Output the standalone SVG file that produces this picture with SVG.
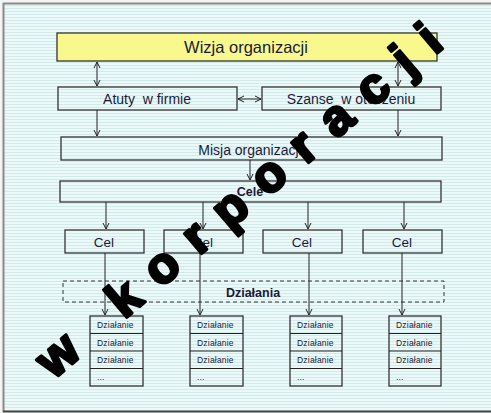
<svg xmlns="http://www.w3.org/2000/svg" width="491" height="413" viewBox="0 0 491 413">
<defs>
<pattern id="stripes" x="0" y="0" width="6" height="3" patternUnits="userSpaceOnUse">
<rect width="6" height="3" fill="#ecf9f9"/>
<rect y="2" width="6" height="1" fill="#d3eaea"/>
</pattern>
<marker id="arr" markerWidth="8" markerHeight="8" refX="7" refY="4" orient="auto-start-reverse" markerUnits="userSpaceOnUse">
<path d="M1,1 L7,4 L1,7" fill="none" stroke="#222" stroke-width="1"/>
</marker>
<style>
.box{fill:none;stroke:#333;stroke-width:1.3}
.t{font-family:"Liberation Sans",Arial,sans-serif;fill:#1a1a3a;text-anchor:middle}
.s{font-family:"Liberation Sans",Arial,sans-serif;font-size:8.5px;fill:#1a1a3a;letter-spacing:0.2px}
.c{stroke:#222;stroke-width:1;fill:none}
</style>
</defs>
<rect width="491" height="413" fill="#f4f4f4"/>
<rect x="3" y="3" width="488" height="408" fill="url(#stripes)"/>
<path d="M3.5,412 L3.5,3.5 L491,3.5" fill="none" stroke="#8a8a8a" stroke-width="2"/>
<line x1="3" y1="411.5" x2="491" y2="411.5" stroke="#444" stroke-width="2"/>

<g id="wizja">
<rect x="57" y="33" width="380" height="28" fill="#f8f88c" stroke="#333" stroke-width="1.3"/>
<text class="t" x="246" y="53" font-size="16.5">Wizja organizacji</text>
</g>
<g id="atuty">
<rect class="box" x="58" y="87" width="179" height="23"/>
<text class="t" x="147" y="104" font-size="14" xml:space="preserve">Atuty  w firmie</text>
</g>
<g id="szanse">
<rect class="box" x="262" y="87" width="179" height="23"/>
<text class="t" x="351" y="104" font-size="14" xml:space="preserve">Szanse  w otoczeniu</text>
</g>
<g id="misja">
<rect class="box" x="61" y="137" width="381" height="23"/>
<text class="t" x="250" y="155" font-size="14">Misja organizacji</text>
</g>
<g id="cele">
<rect class="box" x="60" y="181" width="381" height="21"/>
<text class="t" x="250" y="196" font-size="12.5" font-weight="bold">Cele</text>
</g>
<g id="cel1">
<rect class="box" x="65" y="230" width="79" height="23"/>
<text class="t" x="104" y="247" font-size="13.5">Cel</text>
</g>
<g id="cel2">
<rect class="box" x="164" y="230" width="79" height="23"/>
<text class="t" x="203" y="247" font-size="13.5">Cel</text>
</g>
<g id="cel3">
<rect class="box" x="263" y="230" width="79" height="23"/>
<text class="t" x="302" y="247" font-size="13.5">Cel</text>
</g>
<g id="cel4">
<rect class="box" x="363" y="230" width="79" height="23"/>
<text class="t" x="402" y="247" font-size="13.5">Cel</text>
</g>
<g id="dzialania">
<rect x="63" y="281" width="381" height="21" fill="none" stroke="#333" stroke-width="1" stroke-dasharray="4,3"/>
<text class="t" x="253" y="297" font-size="12.5" font-weight="bold">Działania</text>
</g>

<g id="stack1">
<rect class="box" x="90" y="316" width="53" height="70"/>
<path class="c" d="M90,333.5 H143 M90,351 H143 M90,368.5 H143"/>
<text class="s" x="97" y="328">Działanie</text>
<text class="s" x="97" y="345.5">Działanie</text>
<text class="s" x="97" y="363">Działanie</text>
<text class="s" x="97" y="380">...</text>
</g>
<g id="stack2">
<rect class="box" x="190" y="316" width="53" height="70"/>
<path class="c" d="M190,333.5 H243 M190,351 H243 M190,368.5 H243"/>
<text class="s" x="197" y="328">Działanie</text>
<text class="s" x="197" y="345.5">Działanie</text>
<text class="s" x="197" y="363">Działanie</text>
<text class="s" x="197" y="380">...</text>
</g>
<g id="stack3">
<rect class="box" x="290" y="316" width="52" height="70"/>
<path class="c" d="M290,333.5 H342 M290,351 H342 M290,368.5 H342"/>
<text class="s" x="297" y="328">Działanie</text>
<text class="s" x="297" y="345.5">Działanie</text>
<text class="s" x="297" y="363">Działanie</text>
<text class="s" x="297" y="380">...</text>
</g>
<g id="stack4">
<rect class="box" x="389" y="316" width="52" height="70"/>
<path class="c" d="M389,333.5 H441 M389,351 H441 M389,368.5 H441"/>
<text class="s" x="396" y="328">Działanie</text>
<text class="s" x="396" y="345.5">Działanie</text>
<text class="s" x="396" y="363">Działanie</text>
<text class="s" x="396" y="380">...</text>
</g>

<g id="connectors">
<line class="c" x1="97" y1="62" x2="97" y2="86" marker-start="url(#arr)" marker-end="url(#arr)"/>
<line class="c" x1="398" y1="62" x2="398" y2="86" marker-start="url(#arr)" marker-end="url(#arr)"/>
<line class="c" x1="238" y1="99" x2="261" y2="99" marker-start="url(#arr)" marker-end="url(#arr)"/>
<line class="c" x1="97" y1="110" x2="97" y2="136" marker-end="url(#arr)"/>
<line class="c" x1="398" y1="110" x2="398" y2="136" marker-end="url(#arr)"/>
<line class="c" x1="250" y1="160" x2="250" y2="180" marker-end="url(#arr)"/>
<line class="c" x1="106" y1="202" x2="106" y2="229" marker-end="url(#arr)"/>
<line class="c" x1="203" y1="202" x2="203" y2="229" marker-end="url(#arr)"/>
<line class="c" x1="308" y1="202" x2="308" y2="229" marker-end="url(#arr)"/>
<line class="c" x1="404" y1="202" x2="404" y2="229" marker-end="url(#arr)"/>
<line class="c" x1="105" y1="253" x2="105" y2="315" marker-end="url(#arr)"/>
<line class="c" x1="200" y1="253" x2="200" y2="315" marker-end="url(#arr)"/>
<line class="c" x1="309" y1="253" x2="309" y2="315" marker-end="url(#arr)"/>
<line class="c" x1="402" y1="253" x2="402" y2="315" marker-end="url(#arr)"/>
</g>

<g id="watermark" transform="translate(57,354) rotate(-40.4)">
<text x="-19.5" y="17.5" font-family="'Liberation Sans',Arial,sans-serif" font-size="50" font-weight="bold" letter-spacing="20" fill="#000" stroke="#000" stroke-width="3" stroke-linejoin="round">w korporacji</text>
</g>
</svg>
